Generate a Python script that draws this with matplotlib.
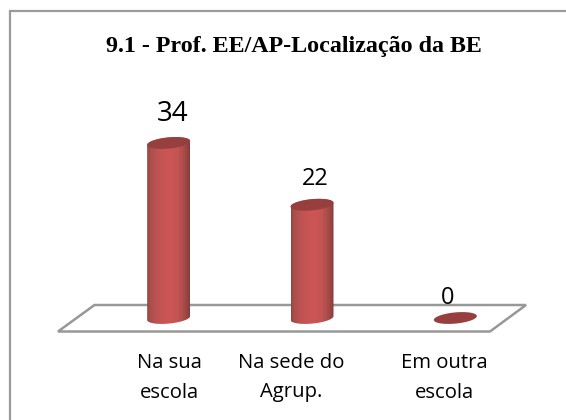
import numpy as np
import matplotlib
matplotlib.use("Agg")
import matplotlib.pyplot as plt
from matplotlib.patches import Polygon
from matplotlib.colors import LinearSegmentedColormap

categories = ["Na sua\nescola", "Na sede do\nAgrup.", "Em outra\nescola"]
values = [34, 22, 0]
title = "9.1 - Prof. EE/AP-Localização da BE"

W, H = 566, 420
fig = plt.figure(figsize=(W / 100, H / 100), dpi=100, facecolor="white")
bg = fig.add_axes([0, 0, 1, 1])
bg.set_xlim(0, W); bg.set_ylim(H, 0); bg.axis("off")
bg.plot([9.5, 9.5, W], [H, 10.5, 10.5], color="#9a9a9a", lw=1.6, solid_joinstyle="miter")
bg.text(294, 46.5, title, family="Liberation Serif", weight="bold", fontsize=17.3,
        ha="center", va="center", color="black")

# plot axes: x category scale, y value scale (with padding below 0 for the cylinder base)
PXX0, PXX1 = 97.0, 527.0
PY0, PY34 = 318.0, 143.0
pad = 15.0   # pixels, top and bottom
ax = fig.add_axes([PXX0 / W, 1 - (PY0 + pad) / H, (PXX1 - PXX0) / W, (PY0 - PY34 + 2 * pad) / H])
sx = 3 / (PXX1 - PXX0)      # data per pixel
sy = 34 / (PY0 - PY34)
xlim = (-0.5, 2.5)
ylim = (-pad * sy, 34 + pad * sy)
ax.patch.set_alpha(0)
ax.axis("off")

# floor parallelogram
fl = [(58, 331.5), (94.5, 305), (526, 305), (490, 331.5)]
floor = Polygon([((x - PXX0) * sx - 0.5, (PY0 - y) * sy) for x, y in fl], closed=True,
                fc="white", ec="#989898", lw=1.8, clip_on=False, zorder=1)
ax.add_patch(floor)

cmap = LinearSegmentedColormap.from_list(
    "cyl", [(0, "#934543"), (0.07, "#aa4e4c"), (0.25, "#c05452"), (0.5, "#cd5654"),
            (0.72, "#c25452"), (0.88, "#a54a48"), (1, "#843c3a")])
grad = np.linspace(0, 1, 128)[None, :]
RX, RY, TILT = 21.5, 5.6, 0.09


def ring(cx, v, start, stop, n=40):
    t = np.radians(np.linspace(start, stop, n))
    xp = RX * np.cos(t)
    yp = RY * np.sin(t) + TILT * RX * np.cos(t)
    return cx + xp * sx, v + yp * sy


for i, v in enumerate(values):
    if v > 0:
        xb, yb = ring(i, 0, 180, 360)
        xt, yt = ring(i, v, 0, 180)
        im = ax.imshow(grad, extent=(i - RX * sx, i + RX * sx, ylim[0], ylim[1]), aspect="auto",
                       cmap=cmap, zorder=3, vmin=0, vmax=1)
        im.set_clip_path(Polygon(np.c_[np.r_[xb, xt], np.r_[yb, yt]], closed=True,
                                 transform=ax.transData))
    xr, yr = ring(i, v, 0, 360, 80)
    ax.fill(xr, yr, color="#963f3e", lw=0, zorder=4, clip_on=False)
ax.set_xlim(*xlim)
ax.set_ylim(*ylim)

value_sizes = [20, 17, 17]
value_off = [(3.5, 29), (3.5, 26), (-7.5, 20)]
for i, v in enumerate(values):
    ax.annotate(str(v), (i, v), xytext=value_off[i], textcoords="offset pixels",
                ha="center", va="center", family="Open Sans", fontsize=value_sizes[i],
                annotation_clip=False)

label_off = [1, -21, -11]
for i, c in enumerate(categories):
    ax.annotate(c, (i, 0), xytext=(label_off[i], -60), textcoords="offset pixels",
                ha="center", va="center", family="Open Sans", fontsize=14.6,
                linespacing=1.6, annotation_clip=False)

fig.savefig("out.png", dpi=100)
